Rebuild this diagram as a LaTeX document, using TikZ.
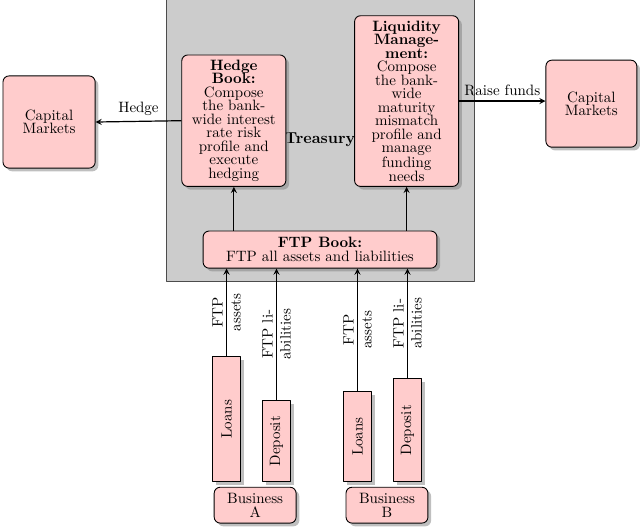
\documentclass[tikz,border=0pt]{standalone}
\usetikzlibrary{shadows}
\begin{document}
\begin{tikzpicture}[line join=round,>=stealth,
	box/.style={draw,semithick,rounded corners=4pt,fill=red!20,drop shadow,align=center,font=\fontsize{10}{9}\selectfont},
	bar/.style={draw,semithick,fill=red!20,drop shadow,rotate=90,anchor=west,minimum height=0.65cm,inner sep=2pt},
	lab/.style={midway,sloped,text width=1.2cm,align=center}]
	% 画布范围
	\useasboundingbox (0,0) rectangle (15,12.33);

	% 资金部
	\node[draw=black!70,semithick,fill=black!20,minimum width=7.22cm,minimum height=6.62cm,font=\fontsize{10.6}{12}\selectfont\bfseries] (T) at (7.5,9.05) {Treasury};

	% 资金部内的账簿
	\node[box,text width=56.4pt,minimum width=2.44cm,anchor=south] (H) at (5.48,7.95) {\textbf{Hedge Book:} Compose the bank-wide interest rate risk profile and execute hedging};
	\node[box,text width=56.4pt,minimum width=2.44cm,anchor=south] (L) at (9.53,7.95) {\textbf{Liquidity}\\\textbf{Manage-}\\\textbf{ment:}\\Compose\\the bank-\\wide\\maturity\\mismatch\\profile and\\manage\\funding\\needs};
	\node[box,minimum width=5.48cm,minimum height=0.87cm] (F) at (7.5,6.48) {\textbf{FTP Book:}\\FTP all assets and liabilities};

	% 资本市场
	\node[box,text width=1.8cm,minimum width=2.16cm,minimum height=2.16cm] (CL) at (1.15,9.47) {Capital Markets};
	\node[box,text width=1.8cm,minimum width=2.13cm,minimum height=2.04cm] (CR) at (13.86,9.90) {Capital Markets};

	% 业务条线
	\node[box,text width=1.4cm,minimum width=1.92cm,minimum height=0.84cm] (BA) at (5.98,0.49) {Business A};
	\node[box,text width=1.4cm,minimum width=1.92cm,minimum height=0.84cm] (BB) at (9.07,0.49) {Business B};
	\node[bar,minimum width=2.93cm] (LA) at (5.31,1.03) {Loans};
	\node[bar,minimum width=1.90cm] (DA) at (6.48,1.03) {Deposit};
	\node[bar,minimum width=2.11cm] (LB) at (8.38,1.03) {Loans};
	\node[bar,minimum width=2.41cm] (DB) at (9.55,1.03) {Deposit};

	% 箭头
	\draw[thick,->] (H.south |- F.north) -- (H.south);
	\draw[thick,->] (L.south |- F.north) -- (L.south);
	\draw[thick,->] (H.west) -- (CL.east) node[midway,above] {Hedge};
	\draw[thick,->] (L.east) -- (L.east -| CR.west) node[midway,above] {Raise funds};
	\draw[thick,->] (LA.east) -- (LA.east |- F.south) node[lab] {FTP assets};
	\draw[thick,->] (DA.east) -- (DA.east |- F.south) node[lab] {FTP liabilities};
	\draw[thick,->] (LB.east) -- (LB.east |- F.south) node[lab] {FTP assets};
	\draw[thick,->] (DB.east) -- (DB.east |- F.south) node[lab] {FTP liabilities};
\end{tikzpicture}
\end{document}
